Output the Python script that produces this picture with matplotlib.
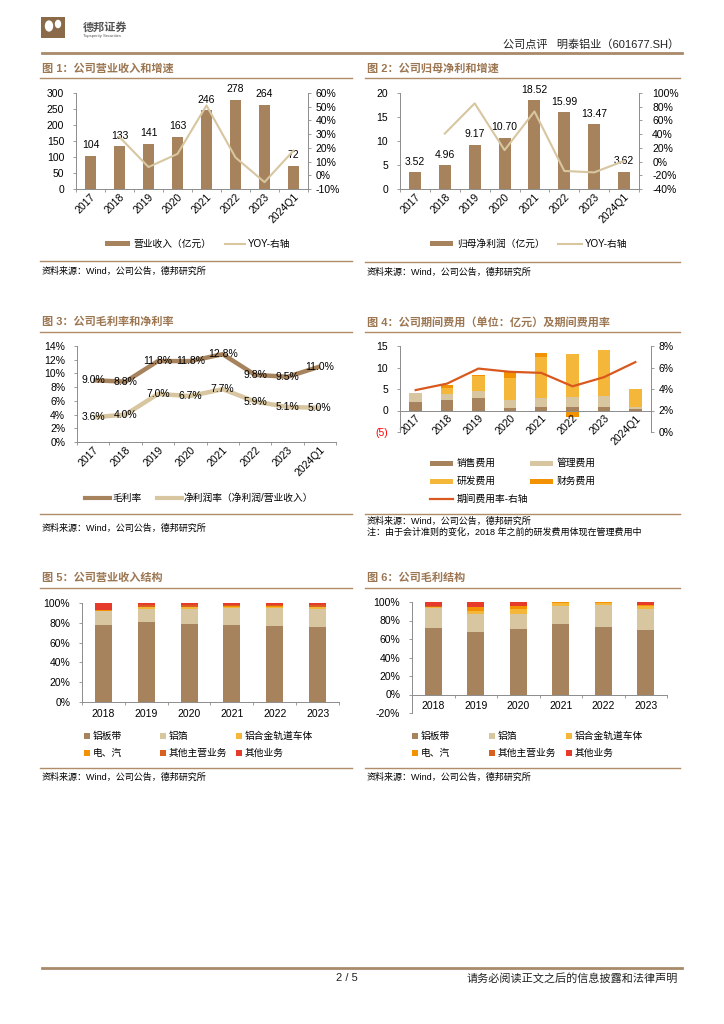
import matplotlib
matplotlib.use("Agg")
import matplotlib.pyplot as plt
import numpy as np
from matplotlib.lines import Line2D
from matplotlib.patches import Rectangle, Circle
from matplotlib.ticker import PercentFormatter, FixedLocator

plt.rcParams['font.family'] = ['Liberation Sans', 'Noto Sans CJK SC', 'DejaVu Sans']
plt.rcParams['axes.unicode_minus'] = False

# ---- data ----
years8 = ['2017', '2018', '2019', '2020', '2021', '2022', '2023', '2024Q1']
revenue = [104, 133, 141, 163, 246, 278, 264, 72]
revenue_yoy = [np.nan, 0.279, 0.06, 0.156, 0.509, 0.13, -0.05, 0.18]

net_profit = [3.52, 4.96, 9.17, 10.70, 18.52, 15.99, 13.47, 3.62]
net_profit_yoy = [np.nan, 0.409, 0.849, 0.167, 0.731, -0.137, -0.158, 0.01]

gross_margin = [0.090, 0.088, 0.118, 0.118, 0.128, 0.098, 0.095, 0.110]
net_margin = [0.036, 0.040, 0.070, 0.067, 0.077, 0.059, 0.051, 0.050]

sales_exp = [1.95, 2.5, 2.8, 0.6, 0.7, 0.7, 0.7, 0.25]
admin_exp = [2.1, 1.4, 1.65, 1.9, 2.3, 2.4, 2.6, 0.45]
rd_exp = [0.0, 1.4, 3.55, 5.1, 9.5, 10.0, 10.8, 4.2]
fin_exp = [0.05, 0.55, 0.36, 1.46, 0.9, -1.4, -0.4, -0.3]
exp_rate = [0.039, 0.045, 0.059, 0.056, 0.055, 0.0425, 0.051, 0.065]

years6 = ['2018', '2019', '2020', '2021', '2022', '2023']
seg_names = ['铝板带', '铝箔', '铝合金轨道车体', '电、汽', '其他主营业务', '其他业务']
rev_struct = [
    [0.782, 0.809, 0.785, 0.779, 0.765, 0.755],
    [0.138, 0.134, 0.155, 0.171, 0.185, 0.188],
    [0.003, 0.015, 0.015, 0.010, 0.010, 0.012],
    [0.003, 0.005, 0.005, 0.005, 0.005, 0.005],
    [0.003, 0.012, 0.015, 0.015, 0.015, 0.015],
    [0.071, 0.025, 0.025, 0.020, 0.020, 0.025],
]
gp_struct = [
    [0.719, 0.680, 0.712, 0.764, 0.735, 0.692],
    [0.216, 0.190, 0.158, 0.196, 0.236, 0.232],
    [0.012, 0.030, 0.058, 0.029, 0.018, 0.037],
    [0.003, 0.043, 0.025, 0.011, 0.011, 0.010],
    [0.003, 0.002, 0.002, -0.008, -0.008, -0.008],
    [0.047, 0.055, 0.045, 0.000, 0.000, 0.025],
]

# ---- styles ----
BROWN = '#A6835C'
TAN = '#D7C6A0'
YELLOW = '#F4B73A'
ORANGE = '#F39200'
DKORANGE = '#D95F1E'
RED = '#E63A2B'
LINE_ORANGE = '#D9581E'
TITLE_C = '#9C7651'
RULE_C = '#B08D68'
AXIS_C = '#8C8C8C'
seg_colors = [BROWN, TAN, YELLOW, ORANGE, DKORANGE, RED]

W, H = 724, 1024
fig = plt.figure(figsize=(W / 100, H / 100), dpi=100)


def ax_at(x0, y0, x1, y1):
    return fig.add_axes([x0 / W, 1 - y1 / H, (x1 - x0) / W, (y1 - y0) / H])


def ftext(x, y, s, **kw):
    kw.setdefault('va', 'center')
    kw.setdefault('fontsize', 7)
    fig.text(x / W, 1 - y / H, s, **kw)


def fline(x0, x1, y, color=RULE_C, lw=1.0):
    fig.add_artist(Line2D([x0 / W, x1 / W], [1 - y / H, 1 - y / H],
                          color=color, lw=lw, transform=fig.transFigure))


def frect(x, y, w, h, color):
    fig.add_artist(Rectangle((x / W, 1 - (y + h) / H), w / W, h / H,
                             color=color, transform=fig.transFigure, lw=0))


def style_axis(ax, fs=7.5):
    for s in ['top', 'right']:
        ax.spines[s].set_visible(False)
    for s in ['left', 'bottom']:
        ax.spines[s].set_color(AXIS_C)
        ax.spines[s].set_linewidth(0.7)
    ax.tick_params(axis='y', length=2.5, width=0.6, color=AXIS_C, labelsize=fs, pad=6)
    ax.tick_params(axis='x', which='major', length=0, labelsize=fs, pad=2)
    ax.tick_params(axis='x', which='minor', length=2.5, width=0.6, color=AXIS_C)
    ax.patch.set_alpha(0)


def style_right(ax2, fs=7.5):
    for s in ['top', 'left', 'bottom']:
        ax2.spines[s].set_visible(False)
    ax2.spines['right'].set_color(AXIS_C)
    ax2.spines['right'].set_linewidth(0.7)
    ax2.tick_params(axis='y', length=2.5, width=0.6, color=AXIS_C, labelsize=fs, pad=3)
    ax2.yaxis.set_major_formatter(PercentFormatter(1.0, decimals=0))


def title_block(x, y, text, right):
    ftext(x + 2, y, text, fontsize=8, color=TITLE_C, fontweight='bold')
    fline(x, right, y + 10)


# ---- header / footer ----
frect(41, 17, 24, 21, '#8A6A48')
fig.add_artist(Circle((49 / W, 1 - 26 / H), 3.5 / W, color='white',
                      transform=fig.transFigure))
fig.add_artist(Circle((58 / W, 1 - 24 / H), 2.5 / W, color='white',
                      transform=fig.transFigure))
ftext(83, 27, '德邦证券', fontsize=8, color='#555555', fontweight='bold')
ftext(83, 36, 'Topsperity Securities', fontsize=3, color='#555555')
ftext(679, 45, '公司点评   明泰铝业（601677.SH）', fontsize=8, ha='right', color='#222222')
fline(42, 682, 53, color='#A88A6A', lw=2.0)

fline(42, 682, 968, color='#A88A6A', lw=2.0)
ftext(347, 978, '2 / 5', fontsize=8, ha='center', color='#222222')
ftext(678, 978, '请务必阅读正文之后的信息披露和法律声明', fontsize=8, ha='right', color='#222222')

x8 = np.arange(len(years8))
x6 = np.arange(len(years6))

# ---- chart 1 ----
title_block(40, 68, '图 1：公司营业收入和增速', 352)
ax = ax_at(76, 93, 308, 189)
ax.bar(x8, revenue, width=0.4, color=BROWN)
for xi, v in zip(x8, revenue):
    ax.annotate(str(v), (xi, v), xytext=(0, 4), textcoords='offset points',
                ha='center', va='bottom', fontsize=7.5)
ax.set_xlim(-0.5, 7.5)
ax.set_ylim(0, 300)
ax.set_yticks(range(0, 301, 50))
style_axis(ax)
ax.set_xticks(x8)
ax.set_xticklabels(years8, rotation=45, ha='right', rotation_mode='anchor')
ax.xaxis.set_minor_locator(FixedLocator(np.arange(-0.5, 8, 1)))
ax2 = ax.twinx()
ax2.plot(x8, revenue_yoy, color=TAN, lw=1.5)
ax2.set_ylim(-0.1, 0.6)
ax2.set_yticks(np.arange(-0.1, 0.61, 0.1))
style_right(ax2)
frect(105, 241, 25, 5, BROWN)
ftext(133, 243.5, '营业收入（亿元）', fontsize=7)
fline(225, 245, 243.5, color=TAN, lw=1.5)
ftext(248, 243.5, 'YOY-右轴', fontsize=7)
fline(40, 352, 261)
ftext(42, 271, '资料来源：Wind，公司公告，德邦研究所', fontsize=6.5)

# ---- chart 2 ----
title_block(365, 68, '图 2：公司归母净利和增速', 680)
ax = ax_at(400, 93, 639, 189)
ax.bar(x8, net_profit, width=0.4, color=BROWN)
for xi, v in zip(x8, net_profit):
    ax.annotate(f'{v:.2f}', (xi, v), xytext=(0, 4), textcoords='offset points',
                ha='center', va='bottom', fontsize=7.5)
ax.set_xlim(-0.5, 7.5)
ax.set_ylim(0, 20)
ax.set_yticks(range(0, 21, 5))
style_axis(ax)
ax.set_xticks(x8)
ax.set_xticklabels(years8, rotation=45, ha='right', rotation_mode='anchor')
ax.xaxis.set_minor_locator(FixedLocator(np.arange(-0.5, 8, 1)))
ax2 = ax.twinx()
ax2.plot(x8, net_profit_yoy, color=TAN, lw=1.5)
ax2.set_ylim(-0.4, 1.0)
ax2.set_yticks(np.arange(-0.4, 1.01, 0.2))
style_right(ax2)
ax2.tick_params(axis='y', pad=7)
frect(430, 241, 23, 5, BROWN)
ftext(457, 243.5, '归母净利润（亿元）', fontsize=7)
fline(558, 582, 243.5, color=TAN, lw=1.5)
ftext(585, 243.5, 'YOY-右轴', fontsize=7)
fline(365, 680, 262)
ftext(367, 272, '资料来源：Wind，公司公告，德邦研究所', fontsize=6.5)

# ---- chart 3 ----
title_block(40, 322, '图 3：公司毛利率和净利率', 352)
ax = ax_at(77, 346, 336, 442)
ax.plot(x8, gross_margin, color=BROWN, lw=3.2, solid_capstyle='butt')
ax.plot(x8, net_margin, color=TAN, lw=3.2, solid_capstyle='butt')
for xi, v in zip(x8, gross_margin):
    ax.text(xi, v, f'{v * 100:.1f}%', ha='center', va='center', fontsize=7.5)
for xi, v in zip(x8, net_margin):
    ax.text(xi, v, f'{v * 100:.1f}%', ha='center', va='center', fontsize=7.5)
ax.set_xlim(-0.5, 7.5)
ax.set_ylim(0, 0.14)
ax.set_yticks(np.arange(0, 0.141, 0.02))
ax.yaxis.set_major_formatter(PercentFormatter(1.0, decimals=0))
style_axis(ax)
ax.set_xticks(x8)
ax.set_xticklabels(years8, rotation=45, ha='right', rotation_mode='anchor')
ax.xaxis.set_minor_locator(FixedLocator(np.arange(-0.5, 8, 1)))
fline(85, 110, 498, color=BROWN, lw=3)
ftext(112, 498, '毛利率', fontsize=7)
fline(157, 182, 498, color=TAN, lw=3)
ftext(184, 498, '净利润率（净利润/营业收入）', fontsize=7)
fline(40, 352, 514)
ftext(42, 528, '资料来源：Wind，公司公告，德邦研究所', fontsize=6.5)

# ---- chart 4 ----
title_block(365, 322, '图 4：公司期间费用（单位：亿元）及期间费用率', 680)
ax = ax_at(400, 346, 651, 432)
bottom = np.zeros(len(x8))
for vals, c in [(sales_exp, BROWN), (admin_exp, TAN), (rd_exp, YELLOW)]:
    ax.bar(x8, vals, bottom=bottom, width=0.4, color=c)
    bottom = bottom + np.array(vals)
fin = np.array(fin_exp)
ax.bar(x8, np.where(fin > 0, fin, 0), bottom=bottom, width=0.4, color=ORANGE)
ax.bar(x8, np.where(fin < 0, fin, 0), width=0.4, color=ORANGE)
ax.set_xlim(-0.5, 7.5)
ax.set_ylim(-5, 15)
style_axis(ax)
ax.spines['bottom'].set_position(('data', 0))
ax.tick_params(axis='y', pad=6)
ax.set_yticks([-5, 0, 5, 10, 15])
ax.set_yticklabels(['(5)', '0', '5', '10', '15'])
ax.get_yticklabels()[0].set_color('red')
ax.set_xticks(x8)
ax.set_xticklabels(years8, rotation=45, ha='right', rotation_mode='anchor')
ax.tick_params(axis='x', which='major', length=0, labelsize=7.5, pad=2)
ax2 = ax.twinx()
ax2.plot(x8, exp_rate, color=LINE_ORANGE, lw=1.6)
ax2.set_ylim(0, 0.08)
ax2.set_yticks(np.arange(0, 0.081, 0.02))
style_right(ax2)
for (px, py, name, c) in [(430, 463, '销售费用', BROWN), (530, 463, '管理费用', TAN),
                          (430, 481, '研发费用', YELLOW), (530, 481, '财务费用', ORANGE)]:
    frect(px, py - 2.5, 23, 5, c)
    ftext(px + 27, py, name, fontsize=7)
fline(430, 453, 499, color=LINE_ORANGE, lw=1.6)
ftext(457, 499, '期间费用率-右轴', fontsize=7)
fline(365, 680, 514)
ftext(367, 521, '资料来源：Wind，公司公告，德邦研究所', fontsize=6.5)
ftext(367, 532, '注：由于会计准则的变化，2018 年之前的研发费用体现在管理费用中', fontsize=6.5)


# ---- chart 5 / 6 ----
def struct_chart(rect, data, ylo, legend_x):
    ax = ax_at(*rect)
    pos = np.zeros(len(x6))
    neg = np.zeros(len(x6))
    for vals, c in zip(data, seg_colors):
        v = np.array(vals)
        ax.bar(x6, np.where(v > 0, v, 0), bottom=pos, width=0.4, color=c)
        ax.bar(x6, np.where(v < 0, v, 0), bottom=neg, width=0.4, color=c)
        pos = pos + np.where(v > 0, v, 0)
        neg = neg + np.where(v < 0, v, 0)
    ax.set_xlim(-0.5, 5.5)
    ax.set_ylim(ylo, 1.0)
    style_axis(ax, fs=7.5)
    ax.spines['bottom'].set_position(('data', 0))
    ax.tick_params(axis='y', pad=6)
    ax.tick_params(axis='x', which='major', length=0, labelsize=7.5, pad=5)
    ax.tick_params(axis='x', which='minor', length=2.5, width=0.6, color=AXIS_C)
    ax.set_yticks(np.arange(ylo, 1.001, 0.2))
    ax.yaxis.set_major_formatter(PercentFormatter(1.0, decimals=0))
    ax.set_xticks(x6)
    ax.set_xticklabels(years6)
    ax.xaxis.set_minor_locator(FixedLocator(np.arange(-0.5, 6, 1)))
    for i, (name, c) in enumerate(zip(seg_names, seg_colors)):
        px = legend_x[i % 3]
        py = 736 if i < 3 else 753
        frect(px - 3, py - 3, 6, 6, c)
        ftext(px + 6, py, name, fontsize=7)
    return ax


title_block(40, 578, '图 5：公司营业收入结构', 352)
struct_chart((82, 603, 339, 702), rev_struct, 0.0, [87, 163, 239])
fline(40, 352, 768)
ftext(42, 777, '资料来源：Wind，公司公告，德邦研究所', fontsize=6.5)

title_block(365, 578, '图 6：公司毛利结构', 680)
struct_chart((412, 602, 667, 713), gp_struct, -0.2, [415, 492, 569])
fline(365, 680, 768)
ftext(367, 777, '资料来源：Wind，公司公告，德邦研究所', fontsize=6.5)

fig.savefig('out.png', dpi=100)
